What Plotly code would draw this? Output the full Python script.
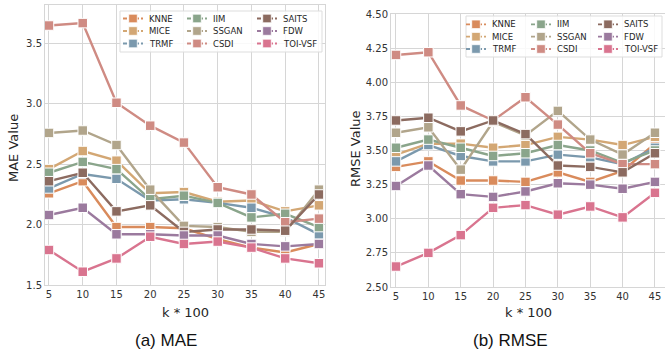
import plotly.graph_objects as go

W, H = 665, 354

k_values = [5, 10, 15, 20, 25, 30, 35, 40, 45]
methods = ["KNNE", "MICE", "TRMF", "IIM", "SSGAN", "CSDI", "SAITS", "FDW", "TOI-VSF"]
colors = ["#d98b5c", "#d3a774", "#7b99ad", "#8aa58b", "#b1a58b", "#cf8b83", "#8c6b60", "#9b7a9e", "#d9748f"]

mae_knne = [2.26, 2.36, 1.98, 1.98, 1.97, 1.88, 1.81, 1.77, 1.84]
mae_mice = [2.46, 2.61, 2.53, 2.26, 2.27, 2.19, 2.20, 2.11, 2.16]
mae_trmf = [2.30, 2.42, 2.38, 2.20, 2.21, 2.18, 2.14, 2.06, 1.92]
mae_iim = [2.43, 2.52, 2.46, 2.21, 2.24, 2.18, 2.06, 2.09, 1.98]
mae_ssgan = [2.76, 2.78, 2.66, 2.29, 1.99, 1.98, 1.94, 1.94, 2.29]
mae_csdi = [3.65, 3.67, 3.01, 2.82, 2.68, 2.31, 2.25, 2.02, 2.05]
mae_saits = [2.36, 2.43, 2.11, 2.16, 1.94, 1.96, 1.96, 1.95, 2.25]
mae_fdw = [2.08, 2.14, 1.92, 1.92, 1.91, 1.91, 1.84, 1.82, 1.84]
mae_toivsf = [1.79, 1.61, 1.72, 1.90, 1.84, 1.86, 1.81, 1.72, 1.68]

rmse_knne = [3.38, 3.42, 3.28, 3.28, 3.27, 3.34, 3.27, 3.35, 3.55]
rmse_mice = [3.47, 3.55, 3.55, 3.52, 3.54, 3.60, 3.58, 3.54, 3.60]
rmse_trmf = [3.42, 3.54, 3.46, 3.42, 3.42, 3.47, 3.45, 3.40, 3.52]
rmse_iim = [3.52, 3.58, 3.52, 3.46, 3.48, 3.54, 3.50, 3.41, 3.50]
rmse_ssgan = [3.63, 3.67, 3.36, 3.71, 3.61, 3.79, 3.58, 3.47, 3.63]
rmse_csdi = [4.20, 4.22, 3.83, 3.72, 3.89, 3.69, 3.48, 3.40, 3.40]
rmse_saits = [3.72, 3.74, 3.64, 3.72, 3.62, 3.39, 3.38, 3.34, 3.48]
rmse_fdw = [3.24, 3.39, 3.18, 3.16, 3.20, 3.26, 3.25, 3.22, 3.27]
rmse_toivsf = [2.65, 2.75, 2.88, 3.08, 3.10, 3.03, 3.09, 3.01, 3.19]

mae_series = [mae_knne, mae_mice, mae_trmf, mae_iim, mae_ssgan, mae_csdi, mae_saits, mae_fdw, mae_toivsf]
rmse_series = [rmse_knne, rmse_mice, rmse_trmf, rmse_iim, rmse_ssgan, rmse_csdi, rmse_saits, rmse_fdw, rmse_toivsf]

mae_ticks = [1.5, 2.0, 2.5, 3.0, 3.5]
rmse_ticks = [2.50, 2.75, 3.00, 3.25, 3.50, 3.75, 4.00, 4.25, 4.50]

TICK_FONT = dict(family="DejaVu Sans", size=10, color="#333333")
GRID = "#d6d6d6"


def px(x):
    return x / W


def py(y):
    return 1 - y / H


fig = go.Figure()
for name, col, mv, rv in zip(methods, colors, mae_series, rmse_series):
    for xa, ya, vals in (("x", "y", mv), ("x2", "y2", rv)):
        fig.add_trace(go.Scatter(
            x=k_values, y=vals, xaxis=xa, yaxis=ya, name=name, mode="lines+markers",
            line=dict(color=col, width=2.4),
            marker=dict(symbol="square", size=9.5, color=col, line=dict(color="white", width=1)),
            showlegend=False, hoverinfo="skip", cliponaxis=False))

axis_common = dict(showgrid=True, gridcolor=GRID, gridwidth=1, showline=True, linecolor=GRID,
                   linewidth=1, mirror=True, zeroline=False, ticks="", tickfont=TICK_FONT,
                   automargin=False)

fig.update_layout(
    width=W, height=H, margin=dict(l=0, r=0, t=0, b=0, autoexpand=False),
    paper_bgcolor="white", plot_bgcolor="white", showlegend=False,
    xaxis=dict(domain=[px(45), px(325)], range=[4.41, 45.9], tickvals=k_values, anchor="y", **axis_common),
    yaxis=dict(domain=[py(285), py(5)], range=[1.5, 3.82], tickvals=mae_ticks,
               ticktext=[f"{v:.1f}" for v in mae_ticks], anchor="x", **axis_common),
    xaxis2=dict(domain=[px(391), 1.0], range=[4.23, 46.55], tickvals=k_values, anchor="y2", **axis_common),
    yaxis2=dict(domain=[py(287), py(14)], range=[2.5, 4.5], tickvals=rmse_ticks,
                ticktext=[f"{v:.2f}" for v in rmse_ticks], anchor="x2", **axis_common),
)

ann = []
shapes = []
LABEL_FONT = dict(family="DejaVu Sans", size=13, color="#262626")
TITLE_FONT = dict(family="Liberation Sans", size=17, color="#111111")
ann.append(dict(text="k * 100", x=px(185), y=py(312), xref="paper", yref="paper", showarrow=False,
                font=LABEL_FONT, xanchor="center", yanchor="middle"))
ann.append(dict(text="k * 100", x=px(528), y=py(312), xref="paper", yref="paper", showarrow=False,
                font=LABEL_FONT, xanchor="center", yanchor="middle"))
ann.append(dict(text="MAE Value", x=px(14), y=py(148), xref="paper", yref="paper", showarrow=False,
                font=LABEL_FONT, textangle=-90, xanchor="center", yanchor="middle"))
ann.append(dict(text="RMSE Value", x=px(355), y=py(149), xref="paper", yref="paper", showarrow=False,
                font=LABEL_FONT, textangle=-90, xanchor="center", yanchor="middle"))
ann.append(dict(text="(a) MAE", x=px(166), y=py(340), xref="paper", yref="paper", showarrow=False,
                font=TITLE_FONT, xanchor="center", yanchor="middle"))
ann.append(dict(text="(b) RMSE", x=px(511), y=py(340), xref="paper", yref="paper", showarrow=False,
                font=TITLE_FONT, xanchor="center", yanchor="middle"))

# legend boxes (manual legend, 3 columns x 3 rows, column-major order)
legend_specs = [
    dict(box=(120, 11, 322, 52), cols=[133, 197, 267], rows=[18.5, 31, 43.5]),
    dict(box=(466, 16, 662, 57), cols=[476, 541, 608], rows=[24.3, 36.7, 49]),
]
LEG_FONT = dict(family="DejaVu Sans", size=8.5, color="#262626")
for spec in legend_specs:
    x0, y0, x1, y1 = spec["box"]
    shapes.append(dict(type="rect", xref="paper", yref="paper", x0=px(x0), x1=px(x1), y0=py(y1), y1=py(y0),
                       fillcolor="rgba(255,255,255,0.85)", line=dict(color="#dddddd", width=1), layer="above"))
    for i, (name, col) in enumerate(zip(methods, colors)):
        c = spec["cols"][i // 3]
        r = spec["rows"][i % 3]
        shapes.append(dict(type="line", xref="paper", yref="paper", x0=px(c - 10), x1=px(c + 10),
                           y0=py(r), y1=py(r), line=dict(color=col, width=1.8, dash="4px,2px"), layer="above"))
        shapes.append(dict(type="rect", xref="paper", yref="paper", x0=px(c - 4.3), x1=px(c + 4.3),
                           y0=py(r + 4.3), y1=py(r - 4.3), fillcolor=col, line=dict(color="white", width=0.8),
                           layer="above"))
        ann.append(dict(text=name, x=px(c + 14), y=py(r), xref="paper", yref="paper", showarrow=False,
                        font=LEG_FONT, xanchor="left", yanchor="middle"))

fig.update_layout(annotations=ann, shapes=shapes)
fig.write_html("out.html", config={"displayModeBar": False, "staticPlot": True},
               post_script="document.body.style.margin='0px';")
